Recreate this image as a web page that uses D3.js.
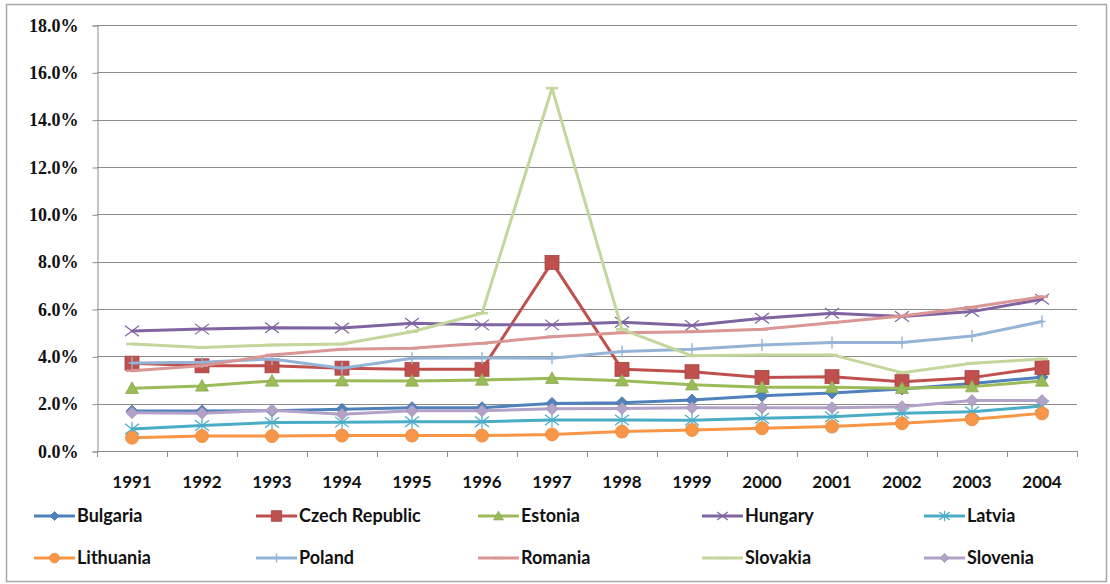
<!DOCTYPE html>
<html>
<head>
<meta charset="utf-8">
<script src="https://cdn.jsdelivr.net/npm/d3@7/dist/d3.min.js"></script>
<style>
  html, body { margin: 0; padding: 0; background: #fff; }
  svg { display: block; }
</style>
</head>
<body>
<svg id="chart" width="1110" height="584"></svg>
<script>
// Years on the category axis
const years = ["1991","1992","1993","1994","1995","1996","1997","1998","1999","2000","2001","2002","2003","2004"];

// Share values per country (fractions of 1)
const bulgaria  = [0.0169,0.0169,0.0170,0.0176,0.0183,0.0183,0.0201,0.0204,0.0215,0.0233,0.0245,0.0262,0.0285,0.0312];
const czech     = [0.0371,0.0360,0.0360,0.0350,0.0345,0.0345,0.0797,0.0345,0.0335,0.0311,0.0314,0.0293,0.0310,0.0352];
const estonia   = [0.0265,0.0275,0.0296,0.0297,0.0296,0.0300,0.0307,0.0297,0.0280,0.0269,0.0269,0.0265,0.0272,0.0296];
const hungary   = [0.0507,0.0515,0.0521,0.0520,0.0540,0.0533,0.0533,0.0544,0.0530,0.0561,0.0582,0.0568,0.0589,0.0641];
const latvia    = [0.0093,0.0108,0.0120,0.0122,0.0124,0.0124,0.0131,0.0131,0.0130,0.0138,0.0145,0.0159,0.0166,0.0190];
const lithuania = [0.0056,0.0063,0.0063,0.0065,0.0065,0.0065,0.0070,0.0082,0.0089,0.0096,0.0103,0.0117,0.0134,0.0159];
const poland    = [0.0372,0.0375,0.0389,0.0350,0.0392,0.0393,0.0392,0.0420,0.0430,0.0448,0.0458,0.0458,0.0486,0.0547];
const romania   = [0.0339,0.0360,0.0406,0.0430,0.0434,0.0455,0.0483,0.0500,0.0504,0.0514,0.0542,0.0570,0.0607,0.0652];
const slovakia  = [0.0452,0.0437,0.0448,0.0452,0.0504,0.0582,0.1533,0.0514,0.0402,0.0406,0.0406,0.0331,0.0371,0.0389];
const slovenia  = [0.0162,0.0160,0.0172,0.0155,0.0170,0.0170,0.0178,0.0180,0.0183,0.0183,0.0183,0.0187,0.0213,0.0213];

const countryNames = ["Bulgaria","Czech Republic","Estonia","Hungary","Latvia","Lithuania","Poland","Romania","Slovakia","Slovenia"];
const yTicks = [0,0.02,0.04,0.06,0.08,0.10,0.12,0.14,0.16,0.18];

// Series table assembled from the arrays above, with the drawing style of each line
const series = [
  {name: countryNames[0], values: bulgaria,  color: "#4F81BD", marker: "diamond"},
  {name: countryNames[1], values: czech,     color: "#C0504D", marker: "square"},
  {name: countryNames[2], values: estonia,   color: "#9BBB59", marker: "triangle"},
  {name: countryNames[3], values: hungary,   color: "#8064A2", marker: "x"},
  {name: countryNames[4], values: latvia,    color: "#4BACC6", marker: "star"},
  {name: countryNames[5], values: lithuania, color: "#F79646", marker: "circle"},
  {name: countryNames[6], values: poland,    color: "#95B3D7", marker: "plus"},
  {name: countryNames[7], values: romania,   color: "#D99694", marker: "dash"},
  {name: countryNames[8], values: slovakia,  color: "#C3D69B", marker: "dash"},
  {name: countryNames[9], values: slovenia,  color: "#B3A2C7", marker: "diamond"}
];

const svg = d3.select("#chart");

// Outer chart frame
svg.append("rect")
  .attr("x", 6.5).attr("y", 4.5)
  .attr("width", 1100).attr("height", 577)
  .attr("fill", "#fff").attr("stroke", "#a6a6a6").attr("stroke-width", 1.5);

const plot = {left: 97, right: 1077, top: 25, bottom: 451};

const x = d3.scaleBand().domain(years).range([plot.left, plot.right]).paddingInner(0).paddingOuter(0);
const cx = d => x(d) + x.bandwidth() / 2;
const y = d3.scaleLinear().domain([0, 0.18]).range([plot.bottom, plot.top]);

// Horizontal gridlines
svg.append("g").selectAll("line")
  .data(yTicks.slice(1))
  .join("line")
  .attr("x1", plot.left).attr("x2", plot.right)
  .attr("y1", d => Math.round(y(d)) + 0.5).attr("y2", d => Math.round(y(d)) + 0.5)
  .attr("stroke", "#8c8c8c").attr("stroke-width", 1);

// Value axis
const yAxis = svg.append("g")
  .attr("transform", `translate(${plot.left + 0.5},0.5)`)
  .call(d3.axisLeft(y).tickValues(yTicks).tickFormat(d3.format(".1%")).tickSize(5).tickPadding(14));
yAxis.select(".domain").attr("stroke", "#8c8c8c");
yAxis.selectAll(".tick line").attr("stroke", "#8c8c8c");
yAxis.selectAll("text")
  .attr("font-family", "'Liberation Serif', 'DejaVu Serif', serif")
  .attr("font-weight", "bold")
  .attr("font-size", 18)
  .attr("fill", "#111");

// Category axis: labels centred in each band, ticks on the band edges
const xAxis = svg.append("g")
  .attr("transform", `translate(0,${plot.bottom + 0.5})`)
  .call(d3.axisBottom(x).tickSize(0).tickPadding(24).tickSizeOuter(0));
xAxis.select(".domain").attr("stroke", "#8c8c8c").attr("d", `M${plot.left},0H${plot.right}`);
xAxis.selectAll("text")
  .attr("font-family", "Lato, 'Open Sans', sans-serif")
  .attr("font-weight", "bold")
  .attr("font-size", 17)
  .attr("fill", "#111");
svg.append("g").selectAll("line")
  .data(years.map(d => x(d)).concat([plot.right]))
  .join("line")
  .attr("x1", d => Math.round(d) + 0.5).attr("x2", d => Math.round(d) + 0.5)
  .attr("y1", plot.bottom).attr("y2", plot.bottom + 6)
  .attr("stroke", "#8c8c8c");

// Marker shapes
function drawMarker(g, type, color, s) {
  const h = s / 2;
  switch (type) {
    case "diamond":
      g.append("path").attr("d", `M0,${-h}L${h},0L0,${h}L${-h},0Z`)
        .attr("fill", color).attr("stroke", d3.color(color).darker(0.3)).attr("stroke-width", 0.8);
      break;
    case "square":
      g.append("rect").attr("x", -h).attr("y", -h).attr("width", s).attr("height", s)
        .attr("fill", color).attr("stroke", d3.color(color).darker(0.4)).attr("stroke-width", 0.8);
      break;
    case "triangle":
      g.append("path").attr("d", `M0,${-h}L${h},${h * 0.8}L${-h},${h * 0.8}Z`)
        .attr("fill", color).attr("stroke", d3.color(color).darker(0.3)).attr("stroke-width", 0.8);
      break;
    case "circle":
      g.append("circle").attr("r", h).attr("fill", color)
        .attr("stroke", d3.color(color).darker(0.2)).attr("stroke-width", 0.8);
      break;
    case "x":
      g.append("path").attr("d", `M${-h},${-h * 0.75}L${h},${h * 0.75}M${-h},${h * 0.75}L${h},${-h * 0.75}`)
        .attr("stroke", color).attr("stroke-width", 1.2).attr("fill", "none");
      break;
    case "star":
      g.append("path").attr("d", `M${-h},${-h * 0.75}L${h},${h * 0.75}M${-h},${h * 0.75}L${h},${-h * 0.75}M0,${-h}L0,${h}`)
        .attr("stroke", color).attr("stroke-width", 1.2).attr("fill", "none");
      break;
    case "plus":
      g.append("path").attr("d", `M${-h * 0.6},0L${h * 0.6},0M0,${-h}L0,${h}`)
        .attr("stroke", color).attr("stroke-width", 1.4).attr("fill", "none");
      break;
    case "dash":
      g.append("path").attr("d", `M${-h},0L${h},0`)
        .attr("stroke", color).attr("stroke-width", 2.5).attr("fill", "none");
      break;
  }
}

const markerSize = {diamond: 12, square: 14, triangle: 13, circle: 13, x: 14, star: 14, plus: 12, dash: 12};

const line = d3.line().x((d, i) => cx(years[i])).y(d => y(d));

// Lines and markers, drawn in series order
const sg = svg.append("g").selectAll("g").data(series).join("g");
sg.each(function(s) {
  const g = d3.select(this);
  g.append("path").attr("d", line(s.values))
    .attr("fill", "none").attr("stroke", s.color).attr("stroke-width", 3)
    .attr("stroke-linejoin", "round").attr("stroke-linecap", "round");
  s.values.forEach((v, i) => {
    const m = g.append("g").attr("transform", `translate(${cx(years[i])},${y(v)})`);
    drawMarker(m, s.marker, s.color, markerSize[s.marker]);
  });
});

// Legend: two rows of five entries
const legendCols = [34, 256, 478, 702, 924];
const legendRows = [516, 558];
const lg = svg.append("g").selectAll("g").data(series).join("g")
  .attr("transform", (d, i) => `translate(${legendCols[i % 5]},${legendRows[Math.floor(i / 5)]})`);
lg.append("line").attr("x1", 0).attr("x2", 41).attr("y1", 0).attr("y2", 0)
  .attr("stroke", d => d.color).attr("stroke-width", 3);
lg.each(function(s) {
  const m = d3.select(this).append("g").attr("transform", "translate(20.5,0)");
  drawMarker(m, s.marker, s.color, markerSize[s.marker] * 0.75);
});
lg.append("text")
  .attr("x", 43).attr("y", 0).attr("dy", "0.35em")
  .attr("font-family", "Lato, 'Open Sans', sans-serif")
  .attr("font-weight", "bold")
  .attr("font-size", 18)
  .attr("fill", "#111")
  .text(d => d.name);
</script>
</body>
</html>
